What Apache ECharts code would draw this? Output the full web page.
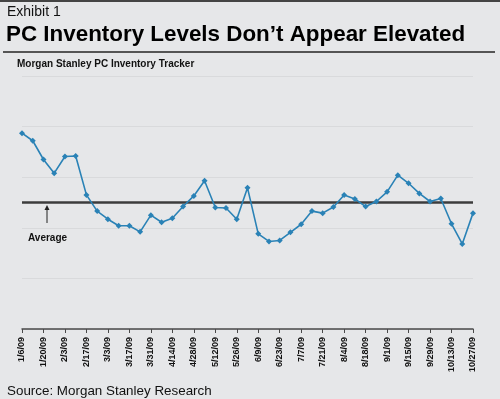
<!DOCTYPE html>
<html lang="en">
<head>
    <meta charset="UTF-8">
    <title>PC Inventory Levels</title>
    <script type="text/javascript" src="https://cdn.jsdelivr.net/npm/echarts@6/dist/echarts.min.js"></script>
    <style>
        html, body { margin: 0; padding: 0; background: #e6e7e9; }
    </style>
</head>
<body>
    <div id="main" style="width: 500px; height: 399px"></div>
    <script>
        // weekly readings, 1/6/09 .. 10/27/09
        var weeks = ['1/6/09', '1/13/09', '1/20/09', '1/27/09', '2/3/09', '2/10/09', '2/17/09', '2/24/09',
            '3/3/09', '3/10/09', '3/17/09', '3/24/09', '3/31/09', '4/7/09', '4/14/09', '4/21/09',
            '4/28/09', '5/5/09', '5/12/09', '5/19/09', '5/26/09', '6/2/09', '6/9/09', '6/16/09',
            '6/23/09', '6/30/09', '7/7/09', '7/14/09', '7/21/09', '7/28/09', '8/4/09', '8/11/09',
            '8/18/09', '8/25/09', '9/1/09', '9/8/09', '9/15/09', '9/22/09', '9/29/09', '10/6/09',
            '10/13/09', '10/20/09', '10/27/09'];
        var tracker = [3.87, 3.72, 3.35, 3.08, 3.41, 3.42, 2.65, 2.33, 2.17, 2.04, 2.04, 1.92,
            2.25, 2.11, 2.19, 2.42, 2.63, 2.93, 2.40, 2.39, 2.17, 2.79, 1.88, 1.73, 1.75, 1.91,
            2.07, 2.33, 2.29, 2.41, 2.65, 2.57, 2.42, 2.52, 2.71, 3.04, 2.88, 2.68, 2.52, 2.58,
            2.08, 1.68, 2.29];
        var avgLevel = 2.5;

        var myChart = echarts.init(document.getElementById('main'));

        myChart.setOption({
            backgroundColor: '#e6e7e9',
            animation: false,
            textStyle: { fontFamily: 'Liberation Sans, Arial, sans-serif' },
            grid: { left: 22, right: 27, top: 76, bottom: 70 },
            xAxis: {
                type: 'category',
                data: weeks,
                boundaryGap: false,
                axisLine: { lineStyle: { color: '#4a4a4a', width: 1.5 } },
                axisTick: { interval: 1, length: 4, lineStyle: { color: '#4a4a4a' } },
                axisLabel: {
                    interval: 1,
                    rotate: 90,
                    margin: 8,
                    color: '#111',
                    fontSize: 9,
                    fontWeight: 'bold'
                },
                splitLine: { show: false }
            },
            yAxis: {
                type: 'value',
                min: 0,
                max: 5,
                interval: 1,
                axisLine: { show: false },
                axisTick: { show: false },
                axisLabel: { show: false },
                splitLine: { lineStyle: { color: '#d9dadc', width: 1 } }
            },
            series: [{
                name: 'PC Inventory Tracker',
                type: 'line',
                data: tracker,
                symbol: 'diamond',
                symbolSize: 6,
                lineStyle: { color: '#2a82b6', width: 1.6 },
                itemStyle: { color: '#2a82b6' },
                z: 3,
                markLine: {
                    silent: true,
                    symbol: 'none',
                    label: { show: false },
                    lineStyle: { color: '#3c3c3c', width: 2.5, type: 'solid' },
                    data: [{ yAxis: avgLevel }],
                    z: 2
                }
            }],
            graphic: [
                { type: 'rect', left: 0, top: 0, shape: { width: 500, height: 2 }, style: { fill: '#444' } },
                { type: 'text', left: 7, top: 5, style: { text: 'Exhibit 1', font: '14px Liberation Sans, Arial', fill: '#111' } },
                { type: 'text', left: 6, top: 24, style: { text: 'PC Inventory Levels Don\u2019t Appear Elevated', font: 'bold 22.4px Liberation Sans, Arial', fill: '#000' } },
                { type: 'rect', left: 3, top: 51, shape: { width: 492, height: 2 }, style: { fill: '#555' } },
                { type: 'text', left: 17, top: 59, style: { text: 'Morgan Stanley PC Inventory Tracker', font: 'bold 10px Liberation Sans, Arial', fill: '#111' } },
                { type: 'line', shape: { x1: 47, y1: 223, x2: 47, y2: 208 }, style: { stroke: '#222', lineWidth: 1 } },
                { type: 'polygon', shape: { points: [[47, 205], [44.5, 210], [49.5, 210]] }, style: { fill: '#222' } },
                { type: 'text', left: 28, top: 233, style: { text: 'Average', font: 'bold 10px Liberation Sans, Arial', fill: '#111' } },
                { type: 'text', left: 7, top: 385, style: { text: 'Source: Morgan Stanley Research', font: '13.4px Liberation Sans, Arial', fill: '#111' } }
            ]
        });
    </script>
</body>
</html>
